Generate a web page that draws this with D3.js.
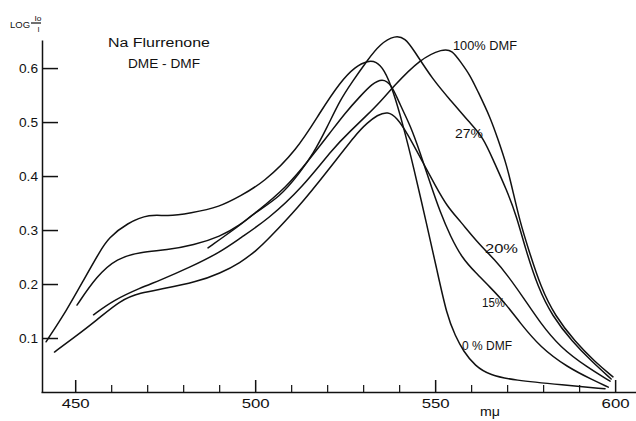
<!DOCTYPE html>
<html><head><meta charset="utf-8">
<script src="https://cdn.jsdelivr.net/npm/d3@7"></script>
<style>
body{margin:0;background:#fff}
svg{display:block}
text{font-family:"Liberation Sans","DejaVu Sans",sans-serif;fill:#111}
</style></head>
<body><svg id="c" width="636" height="421"></svg>
<script>
// wavelength (mμ), log I0/I
const dmf0 = [[441.9,0.093],[447.7,0.152],[452.3,0.207],[456.9,0.261],[459.2,0.285],[464.4,0.313],[470.8,0.330],[475.5,0.325],[481.9,0.331],[490.3,0.343],[495.8,0.363],[502.2,0.387],[511.6,0.448],[518.1,0.519],[523.6,0.574],[527.8,0.603],[531.4,0.614],[533.6,0.612],[535.8,0.598],[538.3,0.559],[541.1,0.494],[543.9,0.420],[547.7,0.309],[550.5,0.226],[553.3,0.141],[555.6,0.104],[557.8,0.076],[561.1,0.048],[565.3,0.031],[571.7,0.022],[585.6,0.013],[597.2,0.006]];
const dmf15 = [[486.9,0.267],[495.8,0.309],[499.4,0.328],[508.9,0.380],[515.3,0.433],[520.8,0.480],[525.0,0.517],[529.2,0.548],[532.5,0.571],[535.3,0.581],[537.8,0.571],[540.3,0.531],[543.1,0.494],[545.8,0.444],[548.6,0.387],[551.4,0.333],[554.2,0.289],[557.5,0.248],[561.1,0.222],[565.3,0.194],[569.4,0.165],[573.6,0.128],[579.2,0.083],[586.7,0.046],[593.9,0.022],[598.1,0.009]];
const dmf20 = [[444.25,0.074],[449.5,0.100],[456.0,0.133],[462.5,0.170],[468.1,0.184],[474.4,0.191],[483.8,0.204],[490.3,0.220],[495.8,0.239],[500.5,0.263],[503.3,0.281],[511.9,0.341],[520.3,0.411],[528.3,0.480],[531.1,0.498],[533.9,0.513],[536.9,0.520],[539.4,0.508],[542.2,0.480],[546.7,0.424],[550.0,0.383],[553.3,0.344],[556.9,0.317],[561.9,0.276],[566.7,0.244],[570.0,0.217],[574.4,0.176],[579.2,0.128],[584.7,0.083],[592.2,0.046],[598.6,0.020]];
const dmf27 = [[450.5,0.161],[456.0,0.215],[461.6,0.248],[468.1,0.259],[475.5,0.263],[482.9,0.272],[490.3,0.288],[495.8,0.309],[499.4,0.330],[506.9,0.361],[512.5,0.407],[516.1,0.441],[519.9,0.489],[523.6,0.541],[526.9,0.574],[531.0,0.613],[534.7,0.645],[538.9,0.661],[541.7,0.655],[543.9,0.635],[549.4,0.578],[554.2,0.541],[559.7,0.498],[563.3,0.472],[566.1,0.430],[569.9,0.374],[572.7,0.324],[575.0,0.267],[578.6,0.193],[582.5,0.141],[588.1,0.093],[593.6,0.056],[598.9,0.024]];
const dmf100 = [[455.1,0.143],[460.6,0.170],[468.1,0.193],[473.6,0.207],[481.9,0.231],[490.3,0.259],[495.8,0.285],[503.6,0.320],[513.3,0.380],[521.7,0.452],[526.7,0.485],[531.1,0.513],[534.7,0.537],[538.3,0.565],[545.8,0.617],[552.2,0.636],[554.7,0.633],[556.9,0.613],[559.7,0.587],[561.7,0.559],[565.3,0.509],[567.5,0.467],[569.9,0.420],[571.7,0.369],[573.6,0.315],[575.8,0.267],[579.4,0.193],[583.3,0.141],[588.9,0.093],[594.4,0.056],[599.4,0.028]];

const seriesList = [dmf0, dmf15, dmf20, dmf27, dmf100];
const xMajorTicks = [450, 500, 550, 600];
const xMinorTicks = [460,470,480,490,510,520,530,540,560,570,580,590];
const yTicks = [0.1, 0.2, 0.3, 0.4, 0.5, 0.6];
const yTickLabels = ["0.1","0.2","0.3","0.4","0.5","0.6"];

const svg = d3.select("#c");
const x = d3.scaleLinear().domain([440.5, 605.8]).range([41, 636]);
const y = d3.scaleLinear().domain([0, 0.652]).range([392, 40]);

// y axis
const yAx = svg.append("g").attr("transform","translate(42,0)")
  .call(d3.axisLeft(y).tickValues(yTicks).tickFormat((d,i)=>yTickLabels[i])
        .tickSizeInner(-16).tickSizeOuter(0).tickPadding(4));
yAx.selectAll("path,line").attr("stroke","#111").attr("stroke-width",1.5);
yAx.selectAll("text").attr("font-size",12.5).attr("textLength",19).attr("lengthAdjust","spacingAndGlyphs")
   .style("font-family","'Liberation Sans',sans-serif").attr("fill","#111");

// x axis
const xAx = svg.append("g").attr("transform","translate(0,392)")
  .call(d3.axisBottom(x).tickValues(xMajorTicks).tickFormat(d3.format("d"))
        .tickSizeInner(-12).tickSizeOuter(0).tickPadding(6));
xAx.selectAll("path,line").attr("stroke","#111").attr("stroke-width",1.5);
xAx.selectAll("text").attr("font-size",13.5).attr("textLength",28).attr("lengthAdjust","spacingAndGlyphs")
   .style("font-family","'Liberation Sans',sans-serif").attr("fill","#111");
const xMin = svg.append("g").attr("transform","translate(0,392)")
  .call(d3.axisBottom(x).tickValues(xMinorTicks).tickFormat("").tickSizeInner(-7).tickSizeOuter(0));
xMin.select(".domain").remove();
xMin.selectAll("line").attr("stroke","#111").attr("stroke-width",1.2);

// curves
const line = d3.line().x(d=>x(d[0])).y(d=>y(d[1])).curve(d3.curveBasis);
svg.append("g").selectAll("path").data(seriesList).join("path")
  .attr("d", line).attr("fill","none").attr("stroke","#111")
  .attr("stroke-width",1.5).attr("stroke-linejoin","round").attr("stroke-linecap","round");

// texts
function label(t, xx, yy, size, len){
  const el = svg.append("text").attr("x",xx).attr("y",yy).attr("font-size",size).text(t);
  if(len) el.attr("textLength",len).attr("lengthAdjust","spacingAndGlyphs");
  return el;
}
label("Na Flurrenone", 108, 47, 12, 102);
label("DME - DMF", 128, 68, 12, 72);
label("100% DMF", 453, 50, 12.5, 64);
label("27%", 455, 138, 12.5, 28);
label("20%", 485, 253, 12.5, 33);
label("15%", 482, 307, 12.5, 23);
label("0 % DMF", 462, 350, 12.5, 50);
label("mμ", 480, 416, 12.5, 20);
// y-axis title LOG Io/I
label("LOG", 10, 28, 9.5, 20);
svg.append("line").attr("x1",31).attr("x2",41).attr("y1",23).attr("y2",23).attr("stroke","#111").attr("stroke-width",1.2);
label("Io", 34.5, 20.5, 7.5, 7);
label("I", 37.5, 32, 7.5);
</script>
</body></html>
